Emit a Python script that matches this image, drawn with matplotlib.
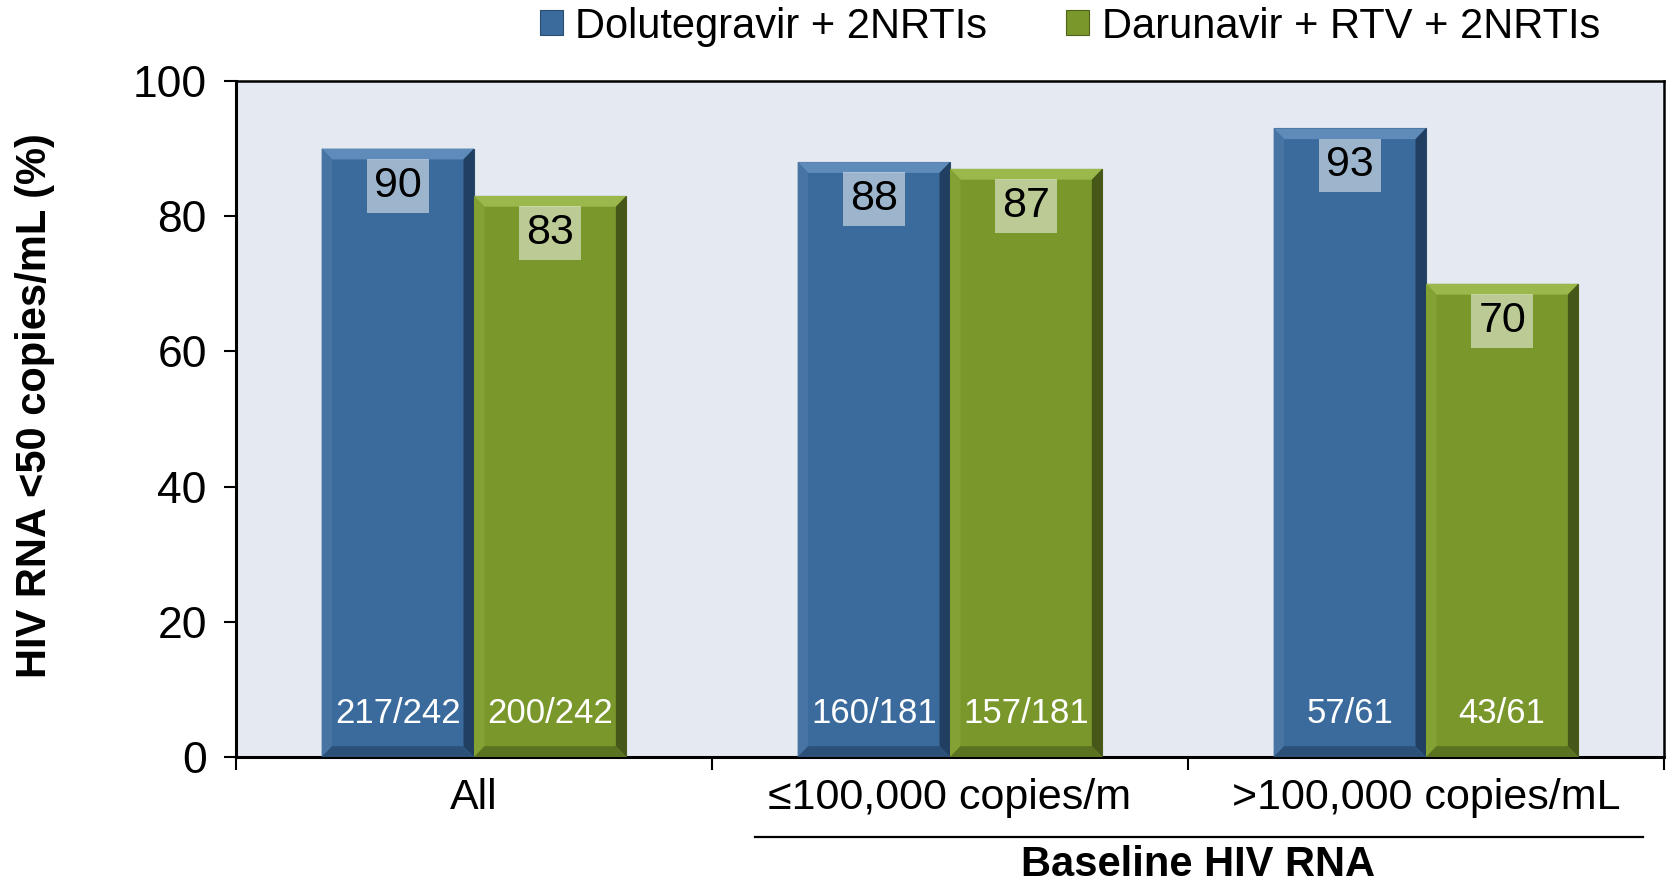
import matplotlib.pyplot as plt
from matplotlib.patches import Polygon
import numpy as np

plt.rcParams['font.family'] = ['Liberation Sans', 'DejaVu Sans']

categories = ['All', '\u2264100,000 copies/m', '>100,000 copies/mL']
series_names = ['Dolutegravir + 2NRTIs', 'Darunavir + RTV + 2NRTIs']
dtg_pct = [90, 88, 93]
drv_pct = [83, 87, 70]
dtg_n = ['217/242', '160/181', '57/61']
drv_n = ['200/242', '157/181', '43/61']

BLUE = '#3a6b9c'
GREEN = '#7a972c'
# (top, left, right, bottom) bevel shades
BLUE_BEVEL = ('#5f8bbb', '#4774a3', '#213f60', '#2b5179')
GREEN_BEVEL = ('#9bb84c', '#84a233', '#46571a', '#5b7320')

fig = plt.figure(figsize=(16.69, 8.86), dpi=100)
ax = fig.add_axes([0.1414, 0.1456, 0.8556, 0.763])
ax.set_facecolor('#e5e9f1')

x = np.arange(len(categories))
w = 0.32
b1 = ax.bar(x - w / 2, dtg_pct, w, color=BLUE, edgecolor='#2a4c70', linewidth=0.8,
            label=series_names[0], zorder=3)
b2 = ax.bar(x + w / 2, drv_pct, w, color=GREEN, edgecolor='#4f611c', linewidth=0.8,
            label=series_names[1], zorder=3)


def bevel(bars, shades, dx=0.022, dy=1.6):
    # little bevel frame drawn from each bar's own rectangle
    for r in bars:
        x0, y0 = r.get_x(), r.get_y()
        x1, y1 = x0 + r.get_width(), y0 + r.get_height()
        sides = [
            [(x0, y1), (x1, y1), (x1 - dx, y1 - dy), (x0 + dx, y1 - dy)],
            [(x0, y0), (x0, y1), (x0 + dx, y1 - dy), (x0 + dx, y0 + dy)],
            [(x1, y0), (x1, y1), (x1 - dx, y1 - dy), (x1 - dx, y0 + dy)],
            [(x0, y0), (x1, y0), (x1 - dx, y0 + dy), (x0 + dx, y0 + dy)],
        ]
        for pts, c in zip(sides, shades):
            ax.add_patch(Polygon(pts, closed=True, facecolor=c, edgecolor='none', zorder=4))


bevel(b1, BLUE_BEVEL)
bevel(b2, GREEN_BEVEL)

for xs, vals, ns in [(x - w / 2, dtg_pct, dtg_n), (x + w / 2, drv_pct, drv_n)]:
    for xi, v, n in zip(xs, vals, ns):
        ax.text(xi, v - 5.5, str(v), ha='center', va='center', fontsize=31, color='black',
                zorder=5, bbox=dict(boxstyle='square,pad=0.16', facecolor='white',
                                    edgecolor='none', alpha=0.5))
        ax.text(xi, 6.5, n, ha='center', va='center', fontsize=25, color='white', zorder=5)

ax.set_xlim(-0.5, 2.5)
ax.set_ylim(0, 100)
ax.set_yticks([0, 20, 40, 60, 80, 100])
ax.tick_params(axis='y', labelsize=32, length=9, width=1.5, direction='out', pad=12)
ax.set_xticks(x)
ax.set_xticklabels(categories, fontsize=31)
ax.tick_params(axis='x', which='major', length=0, pad=15)
ax.set_xticks([-0.5, 0.5, 1.5, 2.5], minor=True)
ax.tick_params(axis='x', which='minor', length=9, width=1.5, direction='out')

for s in ['left', 'bottom']:
    ax.spines[s].set_linewidth(2.2)
for s in ['top', 'right']:
    ax.spines[s].set_linewidth(1.8)

ax.set_ylabel('HIV RNA <50 copies/mL (%)', fontsize=30, fontweight='bold', va='center')
ax.yaxis.set_label_coords(-0.141, 0.52)

# bracket under the baseline subgroups
trans = ax.get_xaxis_transform()
ax.plot([0.59, 2.455], [-0.118, -0.118], color='black', lw=1.6, transform=trans,
        clip_on=False)
ax.text(1.52, -0.160, 'Baseline HIV RNA', transform=trans, ha='center', va='center',
        fontsize=30, fontweight='bold')

fig.legend(handles=[b1, b2], labels=series_names, loc='center', bbox_to_anchor=(0.641, 0.97),
           ncol=2, frameon=False, fontsize=30, handlelength=0.55, handleheight=0.55,
           handletextpad=0.3, columnspacing=1.9, borderaxespad=0)

fig.savefig('out.png', dpi=100)
